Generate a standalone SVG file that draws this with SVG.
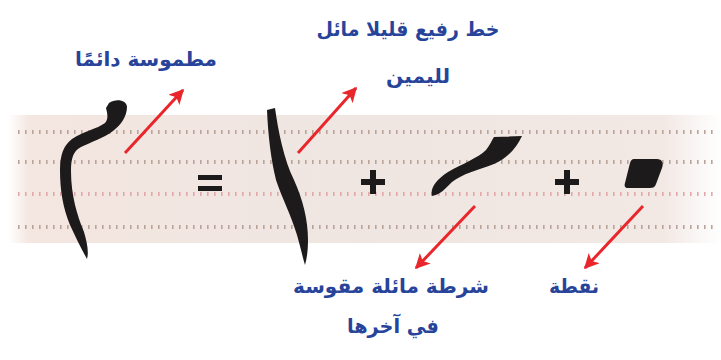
<svg xmlns="http://www.w3.org/2000/svg" width="721" height="360" viewBox="0 0 721 360">
  <defs>
    <linearGradient id="bandH" x1="0" y1="0" x2="1" y2="0">
      <stop offset="0" stop-color="#ffffff"/>
      <stop offset="0.03" stop-color="#f4e6e0"/>
      <stop offset="0.5" stop-color="#efe6e2"/>
      <stop offset="0.92" stop-color="#f2e9e5"/>
      <stop offset="1" stop-color="#ffffff"/>
    </linearGradient>
    <marker id="ah" viewBox="0 0 10 10" refX="9" refY="5" markerWidth="5" markerHeight="5" orient="auto" markerUnits="strokeWidth">
      <path d="M0,0 L10,5 L0,10 L2.5,5 Z" fill="#e8262b"/>
    </marker>
    <style>
      .lbl { font-family: "DejaVu Sans", "Noto Sans", sans-serif; font-weight: bold; font-size: 20px; fill: #27449a; text-anchor: middle; }
      .dot { fill: none; stroke-width: 4; stroke-dasharray: 1.6 5.4; }
      .g1 { stroke: #b9a49a; }
      .g2 { stroke: #e0a8a8; }
      .arr { stroke: #e8262b; stroke-width: 3; fill: none; marker-end: url(#ah); }
      .ink { fill: #1c1a1a; }
    </style>
  </defs>

  <g id="band">
    <rect x="8" y="115" width="713" height="128" fill="url(#bandH)"/>
    <line class="dot g1" x1="18" y1="132" x2="716" y2="132"/>
    <line class="dot g1" x1="18" y1="162" x2="716" y2="162"/>
    <line class="dot g2" x1="18" y1="194" x2="716" y2="194"/>
    <line class="dot g1" x1="18" y1="227" x2="716" y2="227"/>
  </g>

  <g id="meem">
    <path class="ink" d="M109,103 C116,98 127,100 127,107 C127,116 121,125 113,131 C104,138 91,142 81,147 C73,151 71,159 71,171 C71,195 77,215 84,232 C87,242 89,252 87,259 C82,250 76,238 70,225 C63,208 60,190 60,170 C60,154 64,145 72,139 C84,131 97,129 105,123 C109,119 107,112 106,108 Z"/>
  </g>

  <g id="equals">
    <rect class="ink" x="198" y="175" width="24" height="5"/>
    <rect class="ink" x="198" y="186" width="24" height="5"/>
  </g>

  <g id="alif">
    <path class="ink" d="M267,110 L275,108 C278,130 284,160 294,180 C303,200 308,220 308,240 C308,250 307,258 305,265 C302,255 300,245 297,235 C291,215 282,198 276,180 C271,160 268,135 267,110 Z"/>
  </g>

  <g id="plus1">
    <rect class="ink" x="361" y="179" width="24" height="6"/>
    <rect class="ink" x="370" y="170" width="6" height="24"/>
  </g>

  <g id="slash">
    <path class="ink" d="M432,196 C430,188 436,180 448,172 C462,164 478,158 486,150 C490,145 492,140 494,137 L522,136 C517,147 508,158 494,164 C478,170 462,174 452,182 C446,188 440,195 432,196 Z"/>
  </g>

  <g id="plus2">
    <rect class="ink" x="555" y="179" width="24" height="6"/>
    <rect class="ink" x="564" y="170" width="6" height="24"/>
  </g>

  <g id="nuqta">
    <path class="ink" d="M634,159 L657,159 C662,159 664,163 662,168 L656,184 C655,187 653,188 650,188 L628,188 C625,188 624,186 625,183 L630,163 C631,160 632,159 634,159 Z"/>
  </g>

  <g id="connectors">
    <line class="arr" x1="125" y1="153" x2="183" y2="90"/>
    <line class="arr" x1="298" y1="153" x2="356" y2="88"/>
    <line class="arr" x1="475" y1="206" x2="416" y2="268"/>
    <line class="arr" x1="643" y1="206" x2="585" y2="268"/>
  </g>

  <g id="labels">
    <text class="lbl" x="408" y="36" textLength="183" lengthAdjust="spacingAndGlyphs">خط رفيع قليلا مائل</text>
    <text class="lbl" x="418" y="83" textLength="64" lengthAdjust="spacingAndGlyphs">لليمين</text>
    <text class="lbl" x="146" y="66" textLength="142" lengthAdjust="spacingAndGlyphs">مطموسة دائمًا</text>
    <text class="lbl" x="391" y="293" textLength="196" lengthAdjust="spacingAndGlyphs">شرطة مائلة مقوسة</text>
    <text class="lbl" x="393" y="333" textLength="92" lengthAdjust="spacingAndGlyphs">في آخرها</text>
    <text class="lbl" x="574" y="293" textLength="50" lengthAdjust="spacingAndGlyphs">نقطة</text>
  </g>
</svg>
